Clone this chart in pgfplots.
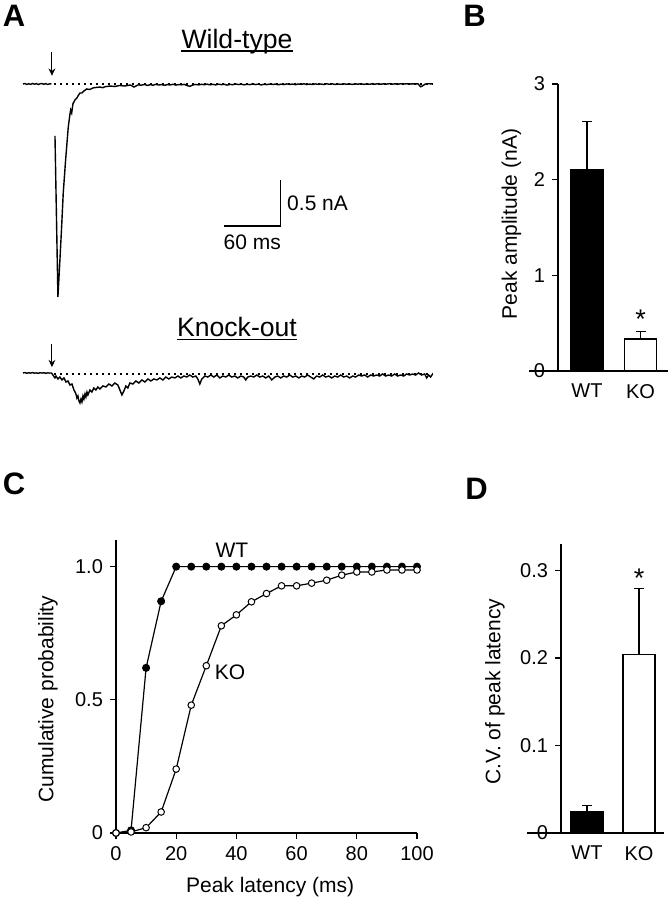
\documentclass[border=0pt]{standalone}
\usepackage{fontspec}
\setmainfont{Liberation Sans}
\usepackage{pgfplots}
\pgfplotsset{compat=1.18}
\usetikzlibrary{arrows.meta}

\pgfplotsset{
  /pgf/number format/assume math mode=true,
  trace/.style={axis lines=none, scale only axis, clip=false, xmin=0, xmax=432, width=205pt},
  panel/.style={scale only axis, clip=false, axis lines*=left,
    axis line style={-, line width=0.65pt},
    tick align=outside, major tick length=3pt,
    tick style={black, line width=0.65pt},
    tick label style={font=\fontsize{10}{12}\selectfont},
    label style={font=\fontsize{10.5}{12.6}\selectfont},
    ytick pos=left, xtick pos=bottom},
  bars/.style={panel, xtick={1,2}, xticklabels={WT,KO}, major x tick style={draw=none}},
}
\newcommand{\lw}{0.7pt}
\newcommand{\letterfont}{\fontsize{15.5}{18}\selectfont\bfseries}

\begin{document}
\begin{tikzpicture}
\useasboundingbox (0,0) rectangle (334pt,450pt);

% panel letters
\node[anchor=base west, inner sep=0, font=\letterfont] at (1.3pt,436.5pt) {A};
\node[anchor=base west, inner sep=0, font=\letterfont] at (231.5pt,436.5pt) {B};
\node[anchor=base west, inner sep=0, font=\letterfont] at (1.3pt,202.5pt) {C};
\node[anchor=base west, inner sep=0, font=\letterfont] at (232.5pt,200pt) {D};

% titles of panel A
\node[anchor=base, inner sep=0, font=\fontsize{13.3}{16}\selectfont] (wt) at (118.5pt,425.85pt) {Wild-type};
\draw[line width=0.7pt] ([yshift=-1.3pt]wt.base west) -- ([yshift=-1.3pt]wt.base east);
\node[anchor=base, inner sep=0, font=\fontsize{13.3}{16}\selectfont] (ko) at (118.5pt,281.5pt) {Knock-out};
\draw[line width=0.7pt] ([yshift=-1.4pt]ko.base west) -- ([yshift=-1.4pt]ko.base east);

% ---------- Panel A: wild-type trace ----------
\begin{axis}[trace, at={(11.5pt,297.6pt)}, anchor=south west, ymin=-2.4, ymax=0.3, height=124.2pt]
\draw[line width=0.7pt, dash pattern=on 0.7pt off 2.3pt] (axis cs:33,0) -- (axis cs:432,0);
\addplot[black, line width=\lw] coordinates {
(0,0.000)(2,0.005)(4,-0.005)(6,0.003)(8,-0.004)(10,0.006)(12,-0.002)(14,0.004)(16,-0.006)(18,0.002)(20,0.005)(22,-0.003)(24,0.004)(26,-0.005)(28,0.002)(30,0.000)
};
\addplot[black, line width=\lw] coordinates {
(33.7,-0.565)(36.8,-2.315)(38.9,-1.913)(40.7,-1.554)(42.4,-1.185)(44.9,-0.826)(47.7,-0.467)(49.5,-0.326)(50.2,-0.283)(51.3,-0.315)(52.6,-0.217)(54.7,-0.174)(56.8,-0.152)(57.9,-0.130)(60.0,-0.098)(62.1,-0.098)(64.2,-0.076)(67.1,-0.054)(70.5,-0.060)(73.7,-0.043)(76.8,-0.038)(81.1,-0.033)(84,-0.040)(86.3,-0.030)(91.6,-0.022)(96.8,-0.027)(102,-0.016)(107,-0.022)(113,-0.011)(117,-0.033)(121,-0.011)
(125,-0.012)(128,-0.005)(131,-0.015)(134,-0.008)(137,-0.013)(140,-0.004)(143,-0.011)(146,-0.006)(149,-0.014)(152,-0.007)(155,-0.010)(158,-0.003)(161,-0.012)(164,-0.006)(167,-0.009)(170,-0.004)(173,-0.018)(176,-0.025)(179,-0.010)(182,-0.005)(185,-0.010)(188,-0.003)(191,-0.008)(194,-0.002)(197,-0.009)(200,-0.004)(203,-0.010)(206,-0.002)(209,-0.007)(212,-0.003)(215,-0.012)(218,-0.004)(221,-0.008)(224,0.000)(227,-0.006)(230,-0.002)(233,-0.009)(236,-0.003)(239,-0.007)(242,0.001)(245,-0.006)(248,-0.002)(251,-0.010)(254,-0.003)(257,-0.007)(260,0.000)(263,-0.005)(266,-0.001)(269,-0.008)(272,-0.002)(275,-0.006)(278,0.001)(281,-0.005)(284,-0.001)(287,-0.007)(290,0.000)(293,-0.004)(296,0.002)(299,-0.006)(302,-0.001)(305,-0.005)(308,0.001)(311,-0.004)(314,0.000)(317,-0.006)(320,0.002)(323,-0.003)(326,0.001)(329,-0.005)(332,0.000)(335,-0.004)(338,0.002)(341,-0.003)(344,0.001)(347,-0.005)(350,0.002)(353,-0.002)(356,0.003)(359,-0.004)(362,0.001)(365,-0.003)(368,0.002)(371,-0.002)(374,0.003)(377,-0.003)(380,0.002)(383,-0.002)(386,0.004)(389,-0.002)(392,0.002)(395,-0.003)(398,0.003)(401,-0.001)(404,0.003)(407,-0.002)(410,0.002)(413,-0.001)(416,0.003)(419,-0.030)(421,-0.020)(424,0.000)(427,0.003)(430,0.001)(432,0.002)
};
\draw[line width=0.55pt, -{Stealth[length=3.6pt,width=3.4pt]}] (axis cs:30.5,0.348) -- (axis cs:30.5,0.09);
\draw[line width=0.65pt] (axis cs:211.6,-1.543) -- (axis cs:271.6,-1.543) -- (axis cs:271.6,-1.043);
\node[anchor=west, inner sep=0, font=\fontsize{10.5}{12.6}\selectfont] at (axis cs:278,-1.293) {0.5 nA};
\node[anchor=west, inner sep=0, font=\fontsize{10.5}{12.6}\selectfont] at (axis cs:211,-1.717) {60 ms};
\end{axis}

% ---------- Panel A: knock-out trace ----------
\begin{axis}[trace, at={(11.5pt,244.6pt)}, anchor=south west, ymin=-0.4, ymax=0.3, height=32.2pt]
\draw[line width=0.7pt, dash pattern=on 0.7pt off 2.3pt] (axis cs:33,0) -- (axis cs:432,0);
\addplot[black, line width=\lw] coordinates {
(0,0.011)(2,0.015)(4,0.008)(6,0.013)(8,0.010)(10,0.016)(12,0.009)(14,0.012)(16,0.007)(18,0.014)(20,0.010)(22,0.013)(24,0.008)(26,0.012)(28,0.010)(30,0.011)
(33.7,-0.043)(34.7,-0.022)(36.8,-0.054)(38.9,-0.033)(41.1,-0.065)(43.2,-0.043)(45.3,-0.087)(47.4,-0.076)(49.5,-0.120)(51.6,-0.109)(53.7,-0.174)(55.8,-0.217)(56.8,-0.261)(57.9,-0.239)(58.9,-0.293)(60.0,-0.315)(61.1,-0.272)(62.1,-0.304)(63.2,-0.239)(64.2,-0.272)(65.3,-0.217)(66.3,-0.250)(67.4,-0.196)(68.4,-0.228)(70.5,-0.174)(72.6,-0.196)(74.7,-0.152)(76.8,-0.174)(78.9,-0.141)(81.1,-0.163)(84.2,-0.130)(87.4,-0.141)(90.5,-0.109)(93.7,-0.130)(96.8,-0.098)(100,-0.120)(102.1,-0.174)(104.2,-0.228)(106.3,-0.185)(108.4,-0.130)(110.5,-0.152)(112.6,-0.098)(115.8,-0.109)(118.9,-0.076)(122.1,-0.098)(125.3,-0.065)(128.4,-0.087)(131.6,-0.054)(134.7,-0.076)(137.9,-0.054)(141.1,-0.065)(144.2,-0.043)(147.4,-0.065)(150.5,-0.033)(153.7,-0.054)(156.8,-0.033)(160,-0.043)(163.2,-0.022)(166.3,-0.043)(169.5,-0.022)(172.6,-0.033)(175.8,-0.011)(178.9,-0.033)(182.1,-0.022)(184.2,-0.054)(186.3,-0.109)(188.4,-0.054)(191.6,-0.022)(194.7,-0.033)(197.9,-0.011)(201.1,-0.033)(204.2,-0.011)(207.4,-0.043)(210.5,-0.022)(213.7,-0.033)(216.8,-0.011)(220,-0.033)(223.2,-0.022)(226.3,-0.043)(229.5,-0.022)(232.6,-0.033)(234.7,-0.065)(236.8,-0.033)(240,-0.022)(243.2,-0.033)(246.3,-0.011)(249.5,-0.033)(252.6,-0.022)(255.8,-0.043)(258.9,-0.022)(262.1,-0.065)(265.3,-0.033)(268.4,-0.022)(271.6,-0.043)(274.7,-0.022)(277.9,-0.033)(281.1,-0.011)(284.2,-0.033)(287.4,-0.022)(290.5,-0.043)(293.7,-0.022)(296.8,-0.033)(300,-0.011)(303.2,-0.033)(306.3,-0.054)(309.5,-0.022)(312.6,-0.033)(315.8,-0.011)(318.9,-0.033)(322.1,-0.022)(325.3,-0.043)(328.4,-0.022)(331.6,-0.033)(334.7,-0.011)(337.9,-0.033)(341.1,-0.022)(344.2,-0.043)(347.4,-0.022)(350.5,-0.033)(353.7,-0.011)(356.8,-0.022)(360,-0.011)(363.2,-0.033)(366.3,-0.011)(369.5,-0.022)(372.6,-0.011)(375.8,-0.022)(378.9,0.000)(382.1,-0.022)(385.3,-0.011)(388.4,-0.022)(391.6,0.000)(394.7,-0.022)(397.9,-0.011)(401.1,-0.022)(404.2,0.000)(407.4,-0.011)(410.5,0.000)(413.7,-0.011)(416.8,0.011)(420,-0.011)(423.2,0.000)(425.3,-0.043)(427.4,-0.011)(429.5,-0.033)(431.6,0.000)
};
\draw[line width=0.55pt, -{Stealth[length=3.6pt,width=3.4pt]}] (axis cs:30.5,0.33) -- (axis cs:30.5,0.075);
\end{axis}

% ---------- Panel B ----------
\begin{axis}[bars, at={(279pt,264.5pt)}, anchor=south west,
  xmin=0.458, xmax=2.514, ymin=0, ymax=3, width=55pt, height=143.5pt,
  ytick={0,1,2,3}, ylabel={Peak amplitude (nA)},
  ylabel style={at={(axis description cs:-0.423,0.512)}, anchor=center}]
\addplot[ybar, bar shift=0pt, bar width=16pt, fill=black, draw=black, line width=0.6pt,
  error bars/.cd, y dir=plus, y explicit,
  error bar style={black, line width=0.6pt},
  error mark options={rotate=90, mark size=2.5pt, black, line width=0.6pt}]
  coordinates {(1,2.11) +- (0,0.50)};
\addplot[ybar, bar shift=0pt, bar width=16pt, fill=white, draw=black, line width=0.6pt,
  error bars/.cd, y dir=plus, y explicit,
  error bar style={black, line width=0.6pt},
  error mark options={rotate=90, mark size=2.5pt, black, line width=0.6pt}]
  coordinates {(2,0.334) +- (0,0.076)};
\draw[line width=0.65pt] (rel axis cs:0,0) -- ++(-2.5pt,0);
\node[anchor=base, inner sep=0, font=\fontsize{13.5}{16}\selectfont] at (axis cs:2,0.449) {*};
\end{axis}

% ---------- Panel C ----------
\begin{axis}[panel, at={(58pt,33.5pt)}, anchor=south west,
  xmin=0, xmax=100, ymin=0, ymax=1.1, width=150.5pt, height=146.5pt,
  xtick={0,20,...,100}, ytick={0,0.5,1}, yticklabels={0,0.5,1.0},
  xlabel={Peak latency (ms)}, ylabel={Cumulative probability},
  xlabel style={at={(axis description cs:0.512,-0.183)}, anchor=center},
  ylabel style={at={(axis description cs:-0.226,0.457)}, anchor=center}]
\addplot[black, line width=0.6pt, mark=*, mark size=1.75pt, mark options={fill=black, line width=0.5pt}] coordinates {
(0,0)(5,0.01)(10,0.62)(15,0.87)(20,1)(25,1)(30,1)(35,1)(40,1)(45,1)(50,1)(55,1)(60,1)(65,1)(70,1)(75,1)(80,1)(85,1)(90,1)(95,1)(100,1)
};
\addplot[black, line width=0.6pt, mark=*, mark size=1.65pt, mark options={fill=white, line width=0.5pt}] coordinates {
(0,0)(5,0.004)(10,0.02)(15,0.079)(20,0.24)(25,0.48)(30,0.628)(35,0.778)(40,0.819)(45,0.868)(50,0.899)(55,0.928)(60,0.928)(65,0.938)(70,0.949)(75,0.968)(80,0.98)(85,0.98)(90,0.9875)(95,0.9875)(100,0.9875)
};
\node[font=\fontsize{10.5}{12.6}\selectfont] at (axis cs:38.5,1.06) {WT};
\node[font=\fontsize{10.5}{12.6}\selectfont] at (axis cs:37.9,0.603) {KO};
\end{axis}

% ---------- Panel D ----------
\begin{axis}[bars, at={(280.5pt,33.5pt)}, anchor=south west,
  xmin=0.5, xmax=2.48, ymin=0, ymax=0.33, width=51.5pt, height=144.5pt,
  ytick={0,0.1,0.2,0.3}, ylabel={C.V. of peak latency},
  ylabel style={at={(axis description cs:-0.641,0.488)}, anchor=center}]
\addplot[ybar, bar shift=0pt, bar width=16pt, fill=black, draw=black, line width=0.6pt,
  error bars/.cd, y dir=plus, y explicit,
  error bar style={black, line width=0.6pt},
  error mark options={rotate=90, mark size=2.5pt, black, line width=0.6pt}]
  coordinates {(1,0.024) +- (0,0.007)};
\addplot[ybar, bar shift=0pt, bar width=16pt, fill=white, draw=black, line width=0.6pt,
  error bars/.cd, y dir=plus, y explicit,
  error bar style={black, line width=0.6pt},
  error mark options={rotate=90, mark size=2.5pt, black, line width=0.6pt}]
  coordinates {(2,0.204) +- (0,0.075)};
\draw[line width=0.65pt] (rel axis cs:0,0) -- ++(-4pt,0);
\node[anchor=base, inner sep=0, font=\fontsize{13.5}{16}\selectfont] at (axis cs:2,0.280) {*};
\end{axis}

\end{tikzpicture}
\end{document}
